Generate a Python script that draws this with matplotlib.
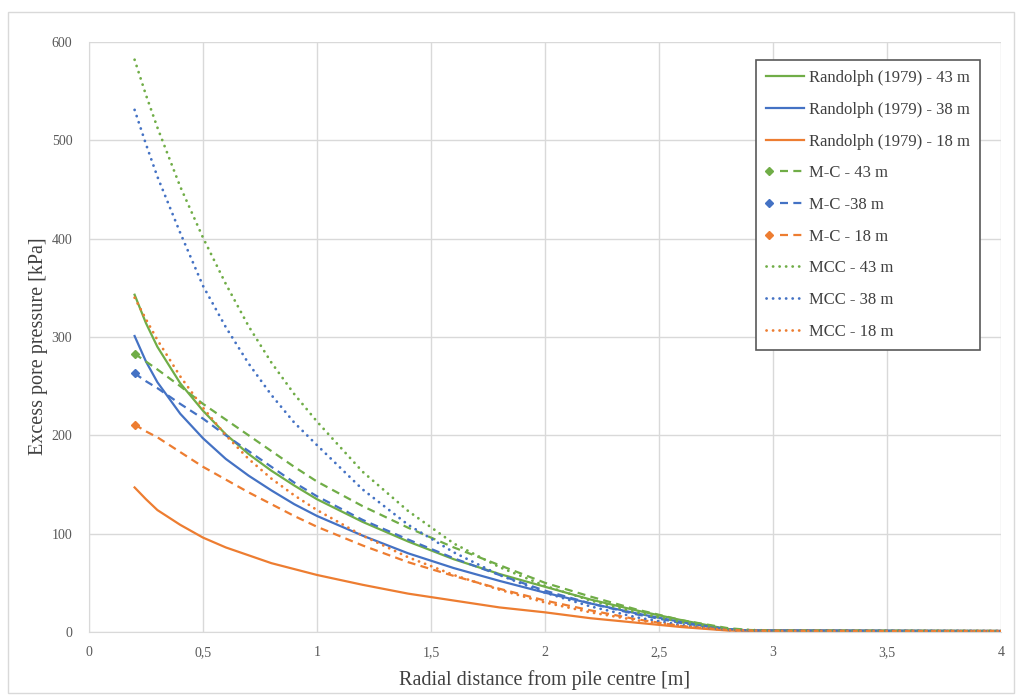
import matplotlib
matplotlib.use("Agg")
import matplotlib.pyplot as plt
from matplotlib.lines import Line2D
from matplotlib.patches import Rectangle
from matplotlib.ticker import FuncFormatter, MultipleLocator
from matplotlib.legend_handler import HandlerBase

plt.rcParams['font.family'] = ['Liberation Serif', 'DejaVu Serif']

# ---- data ----
r = [0.2, 0.25, 0.3, 0.4, 0.5, 0.6, 0.7, 0.8, 0.9, 1.0, 1.2, 1.4, 1.6, 1.8,
     2.0, 2.2, 2.4, 2.6, 2.8, 2.9, 3.0, 3.5, 4.0]

randolph_43 = [343, 314, 290, 253, 225, 201, 181, 164, 149, 135, 112, 92, 74, 59,
               46, 33, 22, 12, 3, 1.5, 1.5, 1.2, 1.0]
randolph_38 = [301, 275, 254, 222, 197, 176, 159, 144, 130, 118, 98, 80, 65, 52,
               40, 29, 19, 10, 2.5, 1.5, 1.5, 1.2, 1.0]
randolph_18 = [147, 135, 124, 109, 96, 86, 78, 70, 64, 58, 48, 39, 32, 25,
               20, 14, 9.5, 5, 1.5, 1.2, 1.2, 1.0, 1.0]

mc_43 = [283, 275, 267, 250, 232, 216, 200, 184, 168, 153, 128, 106, 86, 68,
         50, 36, 23, 12, 4, 2, 1.5, 1.2, 1.0]
mc_38 = [263, 255, 248, 232, 217, 200, 184, 168, 152, 138, 114, 94, 75, 58,
         42, 29, 18, 9, 3, 1.5, 1.5, 1.2, 1.0]
mc_18 = [211, 204, 198, 183, 168, 155, 142, 130, 118, 107, 88, 71, 57, 44,
         32, 22, 13, 6, 2, 1.5, 1.2, 1.0, 1.0]

mcc_43 = [582, 546, 513, 453, 401, 354, 311, 274, 242, 214, 163, 123, 90, 66,
          47, 32, 20, 10, 3, 2, 1.5, 1.2, 1.0]
mcc_38 = [531, 496, 463, 406, 352, 310, 273, 241, 213, 190, 145, 109, 81, 58,
          40, 26, 15, 7, 2, 1.5, 1.5, 1.2, 1.0]
mcc_18 = [340, 318, 297, 260, 228, 200, 176, 156, 139, 124, 98, 76, 58, 43,
          30, 20, 12, 6, 2, 1.5, 1.2, 1.0, 1.0]

labels = ["Randolph (1979) - 43 m", "Randolph (1979) - 38 m", "Randolph (1979) - 18 m",
          "M-C - 43 m", "M-C -38 m", "M-C - 18 m",
          "MCC - 43 m", "MCC - 38 m", "MCC - 18 m"]

GREEN = "#70AD47"
BLUE = "#4472C4"
ORANGE = "#ED7D31"


class LeftMarkerHandler(HandlerBase):
    """Legend entry: line across the handle box, marker (if any) at its left end."""
    def create_artists(self, legend, orig_handle, xdescent, ydescent,
                       width, height, fontsize, trans):
        y = height / 2 - ydescent
        x0 = -xdescent
        x1 = -xdescent + width
        has_marker = orig_handle.get_marker() not in (None, 'None', '', ' ')
        start = x0 + 10 if has_marker else x0
        ln = Line2D([start, x1], [y, y], color=orig_handle.get_color(),
                    linestyle=orig_handle.style_spec,
                    linewidth=orig_handle.get_linewidth(),
                    dash_capstyle=orig_handle.get_dash_capstyle())
        ln.set_transform(trans)
        arts = [ln]
        if has_marker:
            mk = Line2D([x0 + 2], [y], linestyle='none',
                        marker=orig_handle.get_marker(),
                        markersize=orig_handle.get_markersize(),
                        color=orig_handle.get_color())
            mk.set_transform(trans)
            arts.append(mk)
        return arts


fig = plt.figure(figsize=(10.16, 6.96), dpi=100)
fig.patches.append(Rectangle((8 / 1016, 3 / 696), 1006 / 1016, 681 / 696,
                             transform=fig.transFigure, fill=False,
                             edgecolor="#D9D9D9", linewidth=1.0))

ax = fig.add_axes([89 / 1016, 64 / 696, 912 / 1016, 590 / 696])

lw = 1.6
dash = (0, (3.6, 2.4))
dot = (0, (0.05, 2.3))

series = [
    (randolph_43, GREEN, '-', False),
    (randolph_38, BLUE, '-', False),
    (randolph_18, ORANGE, '-', False),
    (mc_43, GREEN, dash, True),
    (mc_38, BLUE, dash, True),
    (mc_18, ORANGE, dash, True),
    (mcc_43, GREEN, dot, False),
    (mcc_38, BLUE, dot, False),
    (mcc_18, ORANGE, dot, False),
]

handles = []
for (vals, col, ls, mk), lab in zip(series, labels):
    is_dot = ls is dot
    w = 2.0 if is_dot else lw
    cap = 'round' if is_dot else 'butt'
    kw = {}
    if mk:
        kw = dict(marker='D', markersize=4.5, markevery=[0])
    ax.plot(r, vals, color=col, linestyle=ls, linewidth=w,
            dash_capstyle=cap, **kw)
    h = Line2D([], [], color=col, linestyle=ls, linewidth=w,
               dash_capstyle=cap,
               marker='D' if mk else None, markersize=4.5)
    h.style_spec = ls
    handles.append(h)

ax.set_xlim(0, 4)
ax.set_ylim(0, 600)
ax.xaxis.set_major_locator(MultipleLocator(0.5))
ax.yaxis.set_major_locator(MultipleLocator(100))
ax.xaxis.set_major_formatter(FuncFormatter(lambda v, p: ("%g" % v).replace('.', ',')))
ax.grid(True, color="#D9D9D9", linewidth=1.0)
ax.set_axisbelow(True)
for s in ax.spines.values():
    s.set_visible(False)
ax.spines['left'].set_visible(True)
ax.spines['bottom'].set_visible(True)
ax.spines['left'].set_color("#D9D9D9")
ax.spines['bottom'].set_color("#D9D9D9")
ax.tick_params(length=0, colors="#595959", labelsize=10)
ax.tick_params(axis='x', pad=10)
ax.tick_params(axis='y', pad=12)

ax.set_xlabel("Radial distance from pile centre [m]", fontsize=14.5, color="#404040", labelpad=8)
ax.set_ylabel("Excess pore pressure [kPa]", fontsize=14.5, color="#404040")
ax.yaxis.set_label_coords(-0.045, 0.485)

leg = ax.legend(handles, labels, loc='upper left', bbox_to_anchor=(0.7315, 0.969),
                fontsize=12, frameon=True, fancybox=False, framealpha=1,
                edgecolor="#595959", labelspacing=0.94, handlelength=2.3,
                handletextpad=0.3, borderpad=0.6, borderaxespad=0.0,
                labelcolor="#404040",
                handler_map={Line2D: LeftMarkerHandler()})
leg.get_frame().set_linewidth(1.2)

fig.savefig("out.png", dpi=100)
